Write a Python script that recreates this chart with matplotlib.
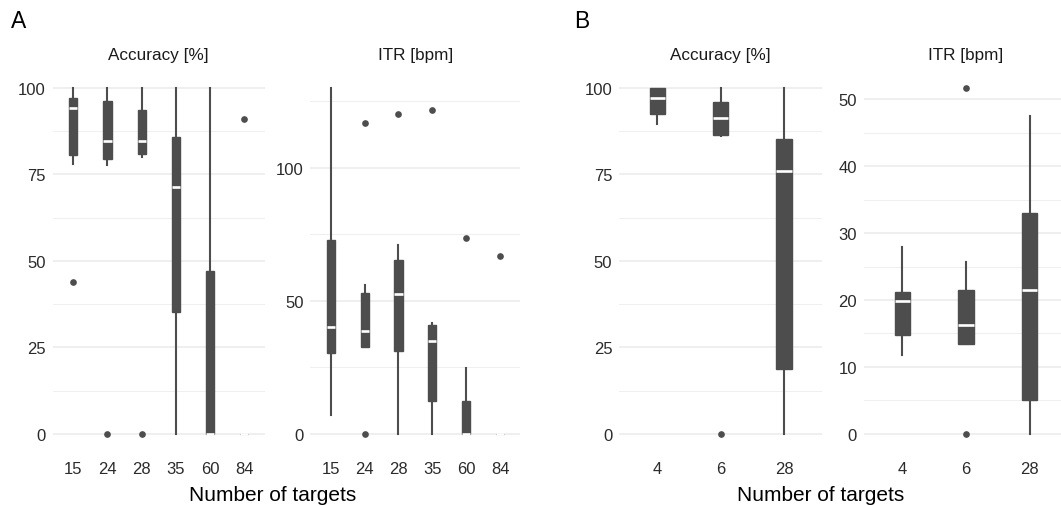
import matplotlib
matplotlib.use("Agg")
import matplotlib.pyplot as plt
from matplotlib.ticker import MultipleLocator

plt.rcParams["font.family"] = ["Liberation Sans", "DejaVu Sans"]

GREY = "#4D4D4D"
GRID = "#EBEBEB"

# panel A: number of targets 15..84
a_targets = ["15", "24", "28", "35", "60", "84"]

a_acc_whislo = [77.9, 77.6, 80.1, 0, 0, 0]
a_acc_q1 = [80.5, 79.5, 81.0, 35.3, 0, 0]
a_acc_med = [94.0, 84.6, 84.6, 71.3, 0, 0]
a_acc_q3 = [96.9, 96.2, 93.5, 85.7, 47.1, 0]
a_acc_whishi = [100, 100, 100, 100, 100, 0]
a_acc_out = [[44], [0], [0], [], [], [91]]

a_itr_whislo = [7.3, 32.8, 0, 0, 0, 0]
a_itr_q1 = [30.3, 32.8, 31.0, 12.3, 0, 0]
a_itr_med = [40.3, 38.6, 52.6, 35.0, 0, 0]
a_itr_q3 = [73.0, 53.0, 65.4, 41.0, 12.5, 0]
a_itr_whishi = [130, 55.8, 70.8, 41.5, 24.7, 0]
a_itr_out = [[], [116.7, 0], [120], [121.8], [73.4], [66.9]]

# panel B: number of targets 4, 6, 28
b_targets = ["4", "6", "28"]

b_acc_whislo = [89.5, 86.0, 0]
b_acc_q1 = [92.3, 86.2, 18.75]
b_acc_med = [96.9, 91.3, 76.0]
b_acc_q3 = [100, 95.9, 85.1]
b_acc_whishi = [100, 100, 100]
b_acc_out = [[], [0], []]

b_itr_whislo = [11.8, 13.4, 0]
b_itr_q1 = [14.7, 13.5, 5.1]
b_itr_med = [19.8, 16.2, 21.5]
b_itr_q3 = [21.2, 21.5, 33.0]
b_itr_whishi = [27.9, 25.7, 47.5]
b_itr_out = [[], [51.7, 0], []]


def make_stats(labels, whislo, q1, med, q3, whishi, out):
    stats = []
    for i, lab in enumerate(labels):
        stats.append(dict(label=lab, whislo=whislo[i], q1=q1[i], med=med[i],
                          q3=q3[i], whishi=whishi[i], fliers=out[i]))
    return stats


def draw_panel(ax, stats, title, major, minor, ylim):
    n = len(stats)
    ax.bxp(
        stats,
        positions=range(n),
        widths=0.24,
        showcaps=False,
        patch_artist=True,
        boxprops=dict(facecolor=GREY, edgecolor=GREY, linewidth=1.0),
        whiskerprops=dict(color=GREY, linewidth=1.5),
        medianprops=dict(color="white", linewidth=1.9),
        flierprops=dict(marker="o", markerfacecolor=GREY, markeredgecolor=GREY,
                        markersize=3.8),
    )
    ax.set_xlim(-0.6, n - 1 + 0.6)
    ax.set_ylim(*ylim)
    ax.yaxis.set_major_locator(MultipleLocator(major))
    ax.yaxis.set_minor_locator(MultipleLocator(minor))
    ax.grid(True, which="major", axis="y", color=GRID, linewidth=1.1)
    ax.grid(True, which="minor", axis="y", color=GRID, linewidth=0.55)
    ax.set_axisbelow(True)
    for s in ax.spines.values():
        s.set_visible(False)
    ax.tick_params(axis="both", which="both", length=0, labelsize=12,
                   labelcolor="#2B2B2B")
    ax.tick_params(axis="y", pad=5)
    ax.tick_params(axis="x", pad=7)
    ax.set_title(title, fontsize=12.3, color="#1A1A1A", pad=8)


fig = plt.figure(figsize=(10.61, 5.06), dpi=100)
bottom, height = 0.1061, 0.7528

ax1 = fig.add_axes([0.0498, bottom, 0.1995, height])
ax2 = fig.add_axes([0.2926, bottom, 0.1978, height])
ax3 = fig.add_axes([0.5837, bottom, 0.1911, height])
ax4 = fig.add_axes([0.8143, bottom, 0.1923, height])

draw_panel(ax1, make_stats(a_targets, a_acc_whislo, a_acc_q1, a_acc_med,
                           a_acc_q3, a_acc_whishi, a_acc_out),
           "Accuracy [%]", 25, 12.5, (-5, 105))
draw_panel(ax2, make_stats(a_targets, a_itr_whislo, a_itr_q1, a_itr_med,
                           a_itr_q3, a_itr_whishi, a_itr_out),
           "ITR [bpm]", 50, 25, (-6.5, 136.5))
draw_panel(ax3, make_stats(b_targets, b_acc_whislo, b_acc_q1, b_acc_med,
                           b_acc_q3, b_acc_whishi, b_acc_out),
           "Accuracy [%]", 25, 12.5, (-5, 105))
draw_panel(ax4, make_stats(b_targets, b_itr_whislo, b_itr_q1, b_itr_med,
                           b_itr_q3, b_itr_whishi, b_itr_out),
           "ITR [bpm]", 10, 5, (-2.6, 54.3))

# panel tags and shared x labels
fig.text(11 / 1061, 1 - 27.5 / 506, "A", fontsize=16.5, color="black", va="baseline")
fig.text(574 / 1061, 1 - 27.5 / 506, "B", fontsize=16.5, color="black", va="baseline")
fig.text(273 / 1061, 1 - 501 / 506, "Number of targets", fontsize=15,
         ha="center", va="baseline", color="black")
fig.text(821 / 1061, 1 - 501 / 506, "Number of targets", fontsize=15,
         ha="center", va="baseline", color="black")

fig.savefig("out.png", dpi=100)
